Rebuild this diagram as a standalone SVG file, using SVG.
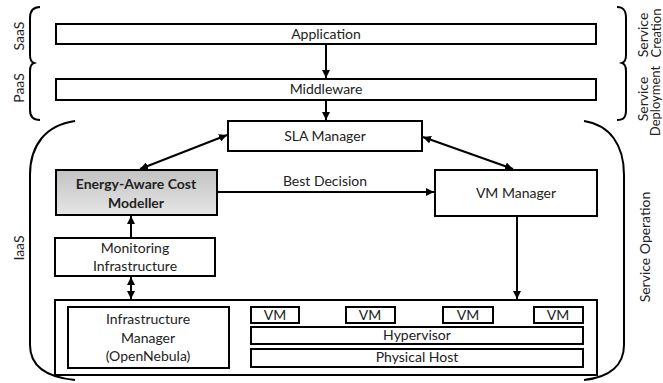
<svg xmlns="http://www.w3.org/2000/svg" width="663" height="383" viewBox="0 0 663 383">
<defs>
<style>
.box{fill:#fff;stroke:#000;stroke-width:2}
.t{font-family:Lato,"Liberation Sans",sans-serif;font-size:14px;fill:#222;text-anchor:middle}
.s{font-size:13px}
.b{font-weight:bold}
.c{fill:none;stroke:#000;stroke-width:2}
.br{fill:none;stroke:#000;stroke-width:2}
</style>
<linearGradient id="g" x1="0" y1="0" x2="0" y2="1">
<stop offset="0" stop-color="#c2c2c2"/>
<stop offset="1" stop-color="#e6e6e6"/>
</linearGradient>
<marker id="ah" viewBox="0 0 10 10" refX="10" refY="5" markerWidth="4" markerHeight="4" orient="auto-start-reverse" markerUnits="strokeWidth">
<path d="M0,0 L10,5 L0,10 z" fill="#000"/>
</marker>
</defs>

<g id="brackets">
<path class="br" d="M40,7 C33,7 30,11 30,18 L30,55 C30,60 31,62 34,63 C31,64 30,66 30,71 L30,110 C30,117 33,120 40,120"/>
<path class="br" d="M617,7 C624,7 626,11 626,18 L626,55 C626,60 625,62 622,63 C625,64 626,66 626,71 L626,110 C626,117 624,120 617,120"/>
<path class="br" d="M75,121 C46,125 30,145 30,175 L30,345 C30,365 44,377 75,380"/>
<path class="br" d="M584,121 C610,125 624,145 624,175 L624,345 C624,365 610,377 584,380"/>
</g>

<g id="labels">
<text class="t" transform="translate(24,36) rotate(-90)">SaaS</text>
<text class="t" transform="translate(24,88) rotate(-90)">PaaS</text>
<text class="t" transform="translate(24,248) rotate(-90)">IaaS</text>
<text class="t" transform="translate(648,35) rotate(-90)">Service</text>
<text class="t s" transform="translate(661,33) rotate(-90)">Creation</text>
<text class="t" transform="translate(648,99) rotate(-90)">Service</text>
<text class="t s" transform="translate(660,101) rotate(-90)">Deployment</text>
<text class="t" transform="translate(650,247) rotate(-90)">Service Operation</text>
</g>

<g id="application">
<rect class="box" x="56" y="24" width="540" height="20"/>
<text class="t" x="326" y="39">Application</text>
</g>
<g id="middleware">
<rect class="box" x="56" y="79" width="540" height="21"/>
<text class="t" x="326" y="94">Middleware</text>
</g>
<g id="sla-manager">
<rect class="box" x="228" y="121" width="194" height="30"/>
<text class="t" x="325" y="141">SLA Manager</text>
</g>
<g id="cost-modeller">
<rect class="box" x="56" y="170" width="161" height="45" style="fill:url(#g)"/>
<text class="t b" x="136" y="189">Energy-Aware Cost</text>
<text class="t b" x="136" y="208">Modeller</text>
</g>
<g id="vm-manager">
<rect class="box" x="435" y="170" width="162" height="46"/>
<text class="t" x="516" y="198">VM Manager</text>
</g>
<g id="monitoring">
<rect class="box" x="55" y="238" width="160" height="38"/>
<text class="t" x="135" y="253">Monitoring</text>
<text class="t" x="135" y="271">Infrastructure</text>
</g>
<g id="host-cluster">
<rect class="box" x="55" y="300" width="542" height="75"/>
</g>
<g id="infra-manager">
<rect class="box" x="68" y="307" width="161" height="61"/>
<text class="t" x="148" y="324">Infrastructure</text>
<text class="t" x="148" y="343">Manager</text>
<text class="t" x="148" y="361">(OpenNebula)</text>
</g>
<g id="vm1"><rect class="box" x="251" y="307" width="48" height="16"/><text class="t" x="275" y="320">VM</text></g>
<g id="vm2"><rect class="box" x="346" y="307" width="49" height="16"/><text class="t" x="370" y="320">VM</text></g>
<g id="vm3"><rect class="box" x="443" y="307" width="50" height="16"/><text class="t" x="468" y="320">VM</text></g>
<g id="vm4"><rect class="box" x="534" y="307" width="49" height="16"/><text class="t" x="558" y="320">VM</text></g>
<g id="hypervisor">
<rect class="box" x="251" y="327" width="332" height="17"/>
<text class="t" x="417" y="340">Hypervisor</text>
</g>
<g id="physical-host">
<rect class="box" x="251" y="349" width="332" height="18"/>
<text class="t" x="417" y="362">Physical Host</text>
</g>

<g id="connectors">
<line class="c" x1="326" y1="45" x2="326" y2="78" marker-end="url(#ah)"/>
<line class="c" x1="326" y1="101" x2="326" y2="120" marker-end="url(#ah)"/>
<line class="c" x1="227" y1="135" x2="140" y2="169" marker-start="url(#ah)" marker-end="url(#ah)"/>
<line class="c" x1="423" y1="137" x2="513" y2="169" marker-start="url(#ah)" marker-end="url(#ah)"/>
<line class="c" x1="218" y1="192" x2="434" y2="192" marker-end="url(#ah)"/>
<text class="t" x="325" y="186">Best Decision</text>
<line class="c" x1="131" y1="237" x2="131" y2="216" marker-end="url(#ah)"/>
<line class="c" x1="131" y1="277" x2="131" y2="299" marker-start="url(#ah)" marker-end="url(#ah)"/>
<line class="c" x1="517" y1="217" x2="517" y2="299" marker-end="url(#ah)"/>
</g>
</svg>
